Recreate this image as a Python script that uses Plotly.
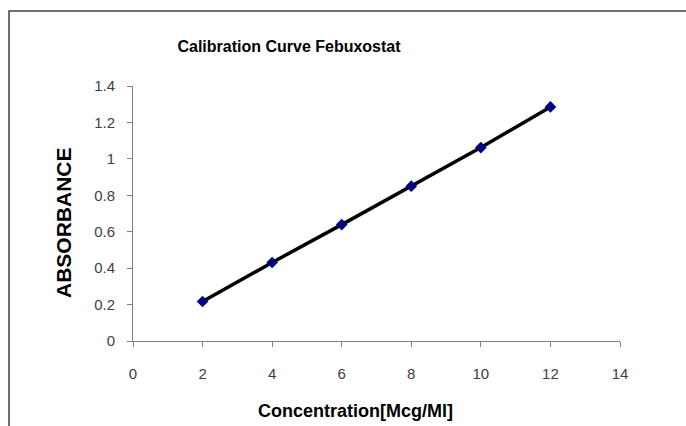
import plotly.graph_objects as go

concentration = [2, 4, 6, 8, 10, 12]
absorbance = [0.217, 0.431, 0.639, 0.850, 1.062, 1.285]
x_ticks = [0, 2, 4, 6, 8, 10, 12, 14]
y_ticks = [0, 0.2, 0.4, 0.6, 0.8, 1, 1.2, 1.4]
y_tick_labels = ["0", "0.2", "0.4", "0.6", "0.8", "1", "1.2", "1.4"]

W, H = 686, 426
ml, mr, mt, mb = 133, 66, 86, 85
pw = W - ml - mr
ph = H - mt - mb

def px_x(p):
    return (p - ml) / pw

def px_y(p):
    return (H - mb - p) / ph

fig = go.Figure()
fig.add_trace(go.Scatter(
    x=concentration, y=absorbance, mode="lines+markers",
    line=dict(color="black", width=3.5),
    marker=dict(symbol="diamond", size=9, color="#000080", line=dict(width=0)),
    showlegend=False, hoverinfo="x+y"))

font = "Arial, Liberation Sans, sans-serif"
axis_common = dict(showgrid=False, zeroline=False, showline=True, linecolor="#808080", linewidth=1,
                   ticks="outside", ticklen=5, tickcolor="#808080",
                   tickfont=dict(family=font, size=15, color="#404040"))

fig.update_layout(
    width=W, height=H, margin=dict(l=ml, r=mr, t=mt, b=mb),
    paper_bgcolor="white", plot_bgcolor="white",
    xaxis=dict(range=[0, 14], tickvals=x_ticks, ticktext=[str(v) for v in x_ticks],
               ticklabelstandoff=14, **axis_common),
    yaxis=dict(range=[0, 1.4], tickvals=y_ticks, ticktext=y_tick_labels,
               ticklabelstandoff=9, **axis_common),
    title=dict(text="<b>Calibration Curve Febuxostat</b>", xref="container", yref="container",
               x=289 / W, y=1 - 46 / H, xanchor="center", yanchor="middle",
               font=dict(family=font, size=16, color="black")),
    annotations=[
        dict(text="<b>Concentration[Mcg/Ml]</b>", xref="paper", yref="paper",
             x=px_x(355), y=px_y(411), xanchor="center", yanchor="middle", showarrow=False,
             font=dict(family=font, size=18, color="black")),
        dict(text="<b>ABSORBANCE</b>", xref="paper", yref="paper", textangle=-90,
             x=px_x(63), y=px_y(223), xanchor="center", yanchor="middle", showarrow=False,
             font=dict(family=font, size=21, color="black")),
    ],
    shapes=[dict(type="rect", xref="paper", yref="paper",
                 x0=px_x(9), x1=px_x(720), y0=px_y(460), y1=px_y(11),
                 line=dict(color="#404040", width=1.5), layer="below")],
)

fig.write_html("out.html", config={"displayModeBar": False},
               post_script="document.body.style.margin='0';document.body.style.overflow='hidden';")
